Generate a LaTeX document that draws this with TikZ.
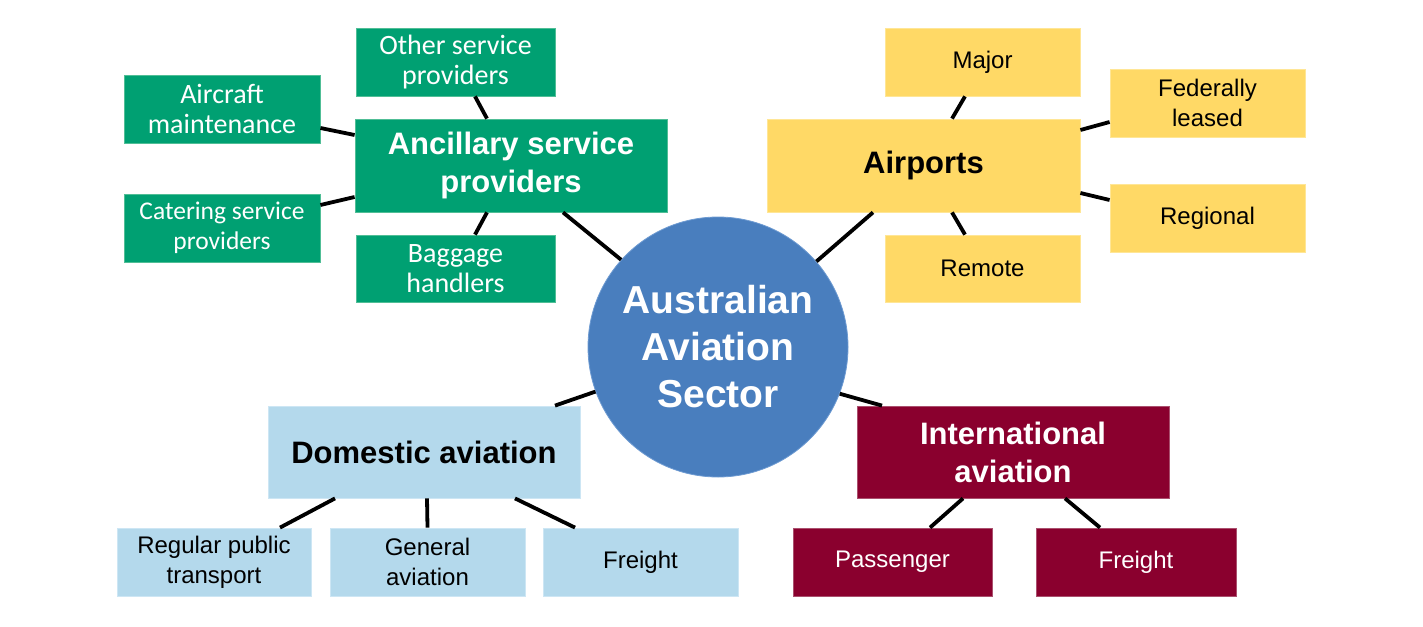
\documentclass[tikz,border=0pt]{standalone}
\usepackage{fontspec}
\setmainfont{Liberation Sans}
\newfontfamily\calib{Carlito}
\usetikzlibrary{calc}
\definecolor{grn}{RGB}{0,160,114}
\definecolor{grnb}{RGB}{80,190,150}
\definecolor{ylw}{RGB}{255,217,102}
\definecolor{ylwb}{RGB}{255,230,150}
\definecolor{lbl}{RGB}{180,217,236}
\definecolor{lblb}{RGB}{205,230,244}
\definecolor{mar}{RGB}{138,0,46}
\definecolor{marb}{RGB}{170,80,110}
\definecolor{cblue}{RGB}{73,126,190}
\definecolor{cblueb}{RGB}{110,155,210}
\tikzset{
  box/.style={rectangle, inner sep=0pt, align=center, line width=0.8pt},
  gsmall/.style={box, fill=grn, draw=grnb, text=white, font={\calib\fontsize{28}{30}\selectfont}},
  gtitle/.style={box, fill=grn, draw=grnb, text=white, font={\bfseries\fontsize{31}{38}\selectfont}},
  ysmall/.style={box, fill=ylw, draw=ylwb, text=black, font={\fontsize{24}{30}\selectfont}},
  ytitle/.style={box, fill=ylw, draw=ylwb, text=black, font={\bfseries\fontsize{31}{38}\selectfont}},
  bsmall/.style={box, fill=lbl, draw=lblb, text=black, font={\fontsize{24}{30}\selectfont}},
  btitle/.style={box, fill=lbl, draw=lblb, text=black, font={\bfseries\fontsize{31}{38}\selectfont}},
  rsmall/.style={box, fill=mar, draw=marb, text=white, font={\fontsize{24}{30}\selectfont}},
  rtitle/.style={box, fill=mar, draw=marb, text=white, font={\bfseries\fontsize{31}{38}\selectfont}},
  hub/.style={circle, inner sep=0pt, minimum size=260pt, fill=cblue, draw=cblueb, line width=0.8pt, text=white, align=center, font={\bfseries\fontsize{39}{47}\selectfont}},
  conn/.style={line width=3.8pt, black},
}
\begin{document}
\begin{tikzpicture}[x=1pt,y=-1pt]
\useasboundingbox (0,0) rectangle (1423,626);
% hub
\node[hub] (hub) at (718,347) {Australian\\Aviation\\Sector};
% ancillary group
\node[gtitle, minimum width=312pt, minimum height=93pt] (anc) at (511,165.5) {Ancillary service\\providers};
\node[gsmall, minimum width=199pt, minimum height=68pt] (oth) at (455.5,62) {Other service\\providers};
\node[gsmall, minimum width=196pt, minimum height=68pt] (air) at (222,109) {Aircraft\\maintenance};
\node[gsmall, minimum width=196pt, minimum height=68pt, font={\calib\fontsize{25.5}{30}\selectfont}] (cat) at (222,228) {Catering service\\providers};
\node[gsmall, minimum width=199pt, minimum height=67pt] (bag) at (455.5,268.5) {Baggage\\handlers};
% airports group
\node[ytitle, minimum width=313pt, minimum height=93pt] (apt) at (923.5,165.5) {Airports};
\node[ysmall, minimum width=195pt, minimum height=68pt] (maj) at (982.5,62) {Major};
\node[ysmall, minimum width=195pt, minimum height=68pt] (fed) at (1207.5,103) {Federally\\leased};
\node[ysmall, minimum width=195pt, minimum height=68pt] (reg) at (1207.5,218) {Regional};
\node[ysmall, minimum width=195pt, minimum height=67pt] (rem) at (982.5,268.5) {Remote};
% domestic group
\node[btitle, minimum width=312pt, minimum height=92pt] (dom) at (424,452) {Domestic aviation};
\node[bsmall, minimum width=194pt, minimum height=68pt] (rpt) at (214,562) {Regular public\\transport};
\node[bsmall, minimum width=195pt, minimum height=68pt] (gen) at (427.5,562) {General\\aviation};
\node[bsmall, minimum width=195pt, minimum height=68pt] (dfr) at (640.5,562) {Freight};
% international group
\node[rtitle, minimum width=312pt, minimum height=92pt] (int) at (1013,452) {International\\aviation};
\node[rsmall, minimum width=199pt, minimum height=68pt] (pas) at (892.5,562) {Passenger};
\node[rsmall, minimum width=200pt, minimum height=68pt] (ifr) at (1136,562) {Freight};
% connectors
\draw[conn] ([xshift=19.5pt]oth.south) -- ([xshift=-24pt]anc.north);
\draw[conn] ([yshift=-19pt]air.east) -- ([yshift=30.5pt]anc.west);
\draw[conn] ([yshift=23pt]cat.east) -- ([yshift=-31.5pt]anc.west);
\draw[conn] ([xshift=-24pt]anc.south) -- ([xshift=19.5pt]bag.north);
\draw[conn] ([xshift=52pt]anc.south) -- (hub.138.5);
\draw[conn] ([xshift=-17.5pt]maj.south) -- ([xshift=28.5pt]apt.north);
\draw[conn] ([yshift=35.5pt]apt.east) -- ([yshift=-19pt]fed.west);
\draw[conn] ([yshift=-27.5pt]apt.east) -- ([yshift=18pt]reg.west);
\draw[conn] ([xshift=28.5pt]apt.south) -- ([xshift=-17.5pt]rem.north);
\draw[conn] ([xshift=-50.5pt]apt.south) -- (hub.41);
\draw[conn] (hub.200) -- ([xshift=131pt]dom.north);
\draw[conn] (hub.339) -- ([xshift=-131pt]int.north);
\draw[conn] ([xshift=-89pt]dom.south) -- ([xshift=66pt]rpt.north);
\draw[conn] ([xshift=3pt]dom.south) -- (gen.north);
\draw[conn] ([xshift=91pt]dom.south) -- ([xshift=-65.5pt]dfr.north);
\draw[conn] ([xshift=-50pt]int.south) -- ([xshift=37.5pt]pas.north);
\draw[conn] ([xshift=52pt]int.south) -- ([xshift=-36pt]ifr.north);
\end{tikzpicture}
\end{document}
